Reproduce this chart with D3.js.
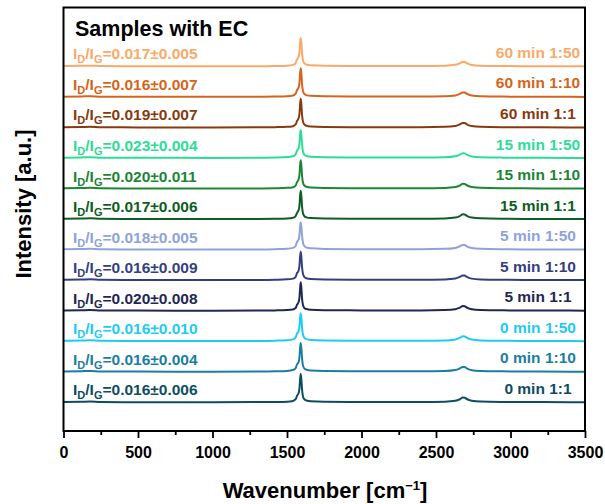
<!DOCTYPE html>
<html><head><meta charset="utf-8">
<script src="https://cdn.jsdelivr.net/npm/d3@7"></script>
<style>
body{margin:0;background:#fff}
svg{font-family:"Liberation Sans",Arial,sans-serif;font-weight:bold}
</style></head>
<body><svg id="chart" width="605" height="504"></svg>
<script>
// ---- data ----
const wavenumbers = [0,120,180,250,500,1000,1300,1420,1500,1540,1558,1568,1576,1583,1588,1592,1596,1601,1607,1616,1630,1660,1750,2000,2400,2560,2630,2660,2680,2692,2710,2740,2800,2950,3200,3500];

// bottom to top
const sampleNames = ["0 min 1:1","0 min 1:10","0 min 1:50","5 min 1:1","5 min 1:10","5 min 1:50","15 min 1:1","15 min 1:10","15 min 1:50","60 min 1:1","60 min 1:10","60 min 1:50"];
const ratioValues = ["0.016±0.006","0.016±0.004","0.016±0.010","0.020±0.008","0.016±0.009","0.018±0.005","0.017±0.006","0.020±0.011","0.023±0.004","0.019±0.007","0.016±0.007","0.017±0.005"];
const seriesColors = ["#0E4D61","#1B7EA1","#1DCBF3","#1F2752","#343F80","#8EA3D8","#0D5E22","#1C8536","#2BDD96","#873A0E","#D5641C","#F9AA6A"];

const int_0min_1_1  = [0.010,0.018,0.025,0.010,0.004,0.003,0.006,0.012,0.022,0.045,0.10,0.22,0.28,0.42,0.76,0.93,0.78,0.42,0.20,0.10,0.060,0.035,0.020,0.012,0.012,0.022,0.050,0.10,0.155,0.150,0.100,0.050,0.025,0.012,0.006,0.002];
const int_0min_1_10 = [0.012,0.020,0.028,0.012,0.005,0.004,0.008,0.015,0.028,0.055,0.12,0.25,0.30,0.45,0.78,0.94,0.80,0.44,0.21,0.11,0.065,0.040,0.022,0.013,0.013,0.024,0.055,0.11,0.160,0.155,0.100,0.050,0.026,0.013,0.006,0.002];
const int_0min_1_50 = [0.015,0.022,0.030,0.014,0.006,0.005,0.010,0.018,0.032,0.060,0.13,0.26,0.31,0.46,0.78,0.92,0.79,0.44,0.22,0.12,0.070,0.042,0.024,0.015,0.015,0.026,0.058,0.11,0.160,0.155,0.105,0.055,0.028,0.014,0.007,0.003];
const int_5min_1_1  = [0.008,0.016,0.022,0.008,0.003,0.002,0.005,0.010,0.020,0.040,0.09,0.20,0.26,0.40,0.74,0.93,0.77,0.40,0.19,0.09,0.055,0.032,0.018,0.010,0.010,0.020,0.048,0.10,0.150,0.145,0.095,0.048,0.024,0.011,0.005,0.002];
const int_5min_1_10 = [0.011,0.019,0.026,0.011,0.005,0.004,0.007,0.014,0.026,0.050,0.11,0.24,0.29,0.44,0.77,0.93,0.79,0.43,0.21,0.11,0.062,0.038,0.021,0.012,0.012,0.023,0.053,0.105,0.155,0.150,0.100,0.050,0.025,0.012,0.006,0.002];
const int_5min_1_50 = [0.012,0.020,0.028,0.012,0.005,0.004,0.008,0.016,0.030,0.058,0.13,0.26,0.31,0.46,0.76,0.90,0.78,0.45,0.23,0.12,0.070,0.042,0.024,0.014,0.014,0.025,0.056,0.11,0.155,0.150,0.100,0.052,0.027,0.013,0.006,0.002];
const int_15min_1_1 = [0.009,0.017,0.024,0.009,0.004,0.003,0.006,0.011,0.021,0.043,0.10,0.21,0.27,0.41,0.75,0.93,0.77,0.41,0.20,0.10,0.058,0.034,0.019,0.011,0.011,0.021,0.050,0.10,0.155,0.150,0.098,0.049,0.024,0.011,0.005,0.002];
const int_15min_1_10= [0.010,0.018,0.025,0.010,0.004,0.003,0.006,0.012,0.023,0.046,0.10,0.22,0.28,0.42,0.76,0.93,0.78,0.42,0.20,0.10,0.060,0.036,0.020,0.012,0.012,0.022,0.051,0.10,0.155,0.150,0.100,0.050,0.025,0.012,0.006,0.002];
const int_15min_1_50= [0.013,0.021,0.029,0.013,0.006,0.005,0.009,0.017,0.031,0.058,0.12,0.25,0.30,0.45,0.77,0.92,0.79,0.44,0.22,0.11,0.068,0.041,0.023,0.014,0.014,0.025,0.056,0.11,0.158,0.152,0.102,0.052,0.027,0.013,0.006,0.002];
const int_60min_1_1 = [0.009,0.017,0.024,0.009,0.004,0.003,0.006,0.012,0.022,0.044,0.10,0.22,0.28,0.42,0.76,0.94,0.78,0.41,0.20,0.10,0.058,0.034,0.019,0.011,0.011,0.021,0.050,0.10,0.150,0.145,0.096,0.048,0.024,0.011,0.005,0.002];
const int_60min_1_10= [0.010,0.018,0.025,0.010,0.004,0.003,0.006,0.012,0.023,0.046,0.11,0.23,0.29,0.43,0.77,0.94,0.79,0.42,0.20,0.10,0.060,0.036,0.020,0.012,0.012,0.022,0.051,0.10,0.150,0.145,0.098,0.049,0.025,0.012,0.006,0.002];
const int_60min_1_50= [0.011,0.019,0.026,0.011,0.005,0.004,0.007,0.014,0.026,0.050,0.11,0.24,0.29,0.44,0.77,0.93,0.79,0.43,0.21,0.11,0.062,0.038,0.021,0.012,0.012,0.023,0.053,0.10,0.150,0.145,0.098,0.049,0.025,0.012,0.006,0.002];

const intensities = [int_0min_1_1,int_0min_1_10,int_0min_1_50,int_5min_1_1,int_5min_1_10,int_5min_1_50,int_15min_1_1,int_15min_1_10,int_15min_1_50,int_60min_1_1,int_60min_1_10,int_60min_1_50];
const stackOffsets = [0,1,2,3,4,5,6,7,8,9,10,11];

const xTicks = [0,500,1000,1500,2000,2500,3000,3500];
const xMinorTicks = [250,750,1250,1750,2250,2750,3250];

// ---- layout ----
const svg = d3.select("#chart");
const L = 63.5, R = 585, T = 7.5, B = 431;
const x = d3.scaleLinear().domain([0,3500]).range([L,R]);
const y = d3.scaleLinear().domain([-0.94,12.93]).range([B,T]);

const line = d3.line().x(d => x(d[0])).y(d => y(d[1])).curve(d3.curveMonotoneX);

const g = svg.append("g");
intensities.forEach((arr,i) => {
  const pts = wavenumbers.map((w,k) => [w, arr[k] + stackOffsets[i]]);
  g.append("path").attr("d", line(pts)).attr("fill","none")
    .attr("stroke", seriesColors[i]).attr("stroke-width",2).attr("stroke-linejoin","round");
});

// left ratio labels
intensities.forEach((arr,i) => {
  const t = svg.append("text").attr("x",73).attr("y", y(stackOffsets[i]) - 7)
    .attr("fill", seriesColors[i]).style("font-size","15.5px");
  t.append("tspan").text("I");
  t.append("tspan").text("D").style("font-size","11px").attr("dy",4);
  t.append("tspan").text("/I").attr("dy",-4);
  t.append("tspan").text("G").style("font-size","11px").attr("dy",4);
  t.append("tspan").text("=" + ratioValues[i]).attr("dy",-4);
});

// right sample labels
sampleNames.forEach((n,i) => {
  svg.append("text").attr("x",538).attr("y", y(stackOffsets[i]) - 8.5)
    .attr("text-anchor","middle").attr("fill", seriesColors[i])
    .style("font-size","15.5px").text(n);
});

// frame
svg.append("rect").attr("x",L).attr("y",T).attr("width",R-L).attr("height",B-T)
  .attr("fill","none").attr("stroke","#000").attr("stroke-width",2);

// x axis
const ax = svg.append("g").attr("transform",`translate(0,${B})`)
  .call(d3.axisBottom(x).tickValues(xTicks).tickSize(7).tickSizeOuter(0).tickPadding(9).tickFormat(d3.format("d")));
ax.select(".domain").remove();
ax.selectAll("line").attr("stroke","#000").attr("stroke-width",1.8);
ax.selectAll("text").style("font-size","16px").style("font-family","'Liberation Sans',Arial,sans-serif").style("font-weight","bold").attr("fill","#000");
const axm = svg.append("g").attr("transform",`translate(0,${B})`)
  .call(d3.axisBottom(x).tickValues(xMinorTicks).tickSize(4).tickSizeOuter(0).tickFormat(""));
axm.select(".domain").remove();
axm.selectAll("line").attr("stroke","#000").attr("stroke-width",1.8);

// title
svg.append("text").attr("x",75).attr("y",36).style("font-size","21.5px").attr("fill","#000").text("Samples with EC");

// axis titles
const xt = svg.append("text").attr("x",325).attr("y",498).attr("text-anchor","middle").style("font-size","22px").attr("fill","#000");
xt.append("tspan").text("Wavenumber [cm");
xt.append("tspan").text("−1").style("font-size","13px").attr("dy",-8);
xt.append("tspan").text("]").attr("dy",8);

svg.append("text").attr("transform","translate(31,204) rotate(-90)").attr("text-anchor","middle")
  .style("font-size","22px").attr("fill","#000").text("Intensity [a.u.]");
</script>
</body></html>
